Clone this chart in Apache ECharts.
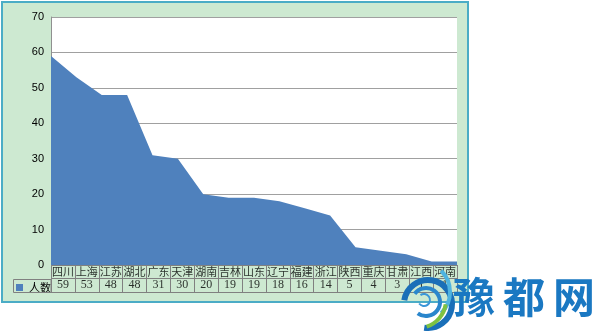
<!DOCTYPE html>
<html><head><meta charset="utf-8">
<script src="https://cdn.jsdelivr.net/npm/echarts@6/dist/echarts.min.js"></script>
<style>html,body{margin:0;padding:0;background:#fff}#c{width:600px;height:336px}</style>
</head><body><div id="c"></div>
<script>
var categories = ['四川','上海','江苏','湖北','广东','天津','湖南','吉林','山东','辽宁','福建','浙江','陕西','重庆','甘肃','江西','河南'];
var values = [59,53,48,48,31,30,20,19,19,18,16,14,5,4,3,1,1];
var seriesName = '人数';
var yTicks = [0,10,20,30,40,50,60,70];

var chart = echarts.init(document.getElementById('c'));
chart.setOption({
  animation:false,
  backgroundColor:'#fff',
  graphic:[
    {type:'rect', z:-10, shape:{x:2,y:2,width:466,height:300}, style:{fill:'#cde9d1', stroke:'#4bacc6', lineWidth:2}},
    {type:'rect', z:5, shape:{x:13.5,y:279.5,width:37.5,height:13}, style:{fill:'none', stroke:'#808080', lineWidth:1}},
    {type:'arc', z:20, shape:{cx:428,cy:304,r:24,startAngle:Math.PI*1.05,endAngle:Math.PI*2.55}, style:{stroke:'#1a6fb8', lineWidth:6, fill:'none'}},
    {type:'arc', z:20, shape:{cx:426,cy:302,r:14,startAngle:Math.PI*1.2,endAngle:Math.PI*2.7}, style:{stroke:'#2a86cc', lineWidth:4, fill:'none'}},
    {type:'arc', z:20, shape:{cx:424,cy:300,r:6,startAngle:Math.PI*1.3,endAngle:Math.PI*2.8}, style:{stroke:'#3a96d8', lineWidth:2, fill:'none'}},
    {type:'arc', z:20, shape:{cx:420,cy:292,r:30,startAngle:Math.PI*1.75,endAngle:Math.PI*2.25}, style:{stroke:'#4fb4e0', lineWidth:4, fill:'none'}},
    {type:'arc', z:20, shape:{cx:418,cy:300,r:28,startAngle:Math.PI*0.05,endAngle:Math.PI*0.4}, style:{stroke:'#7ec242', lineWidth:4, fill:'none'}},
    {type:'text', z:20, left:453, top:276, style:{text:'豫', font:'bold 42px "Noto Sans CJK SC"', fill:'#1a78c2'}},
    {type:'text', z:20, left:503, top:276, style:{text:'都', font:'bold 42px "Noto Sans CJK SC"', fill:'#1a78c2'}},
    {type:'text', z:20, left:553, top:276, style:{text:'网', font:'bold 42px "Noto Sans CJK SC"', fill:'#1a78c2'}}
  ],
  legend:{data:[seriesName], left:14, top:279, itemWidth:7, itemHeight:7, itemGap:2, padding:[3,2],
    icon:'rect', textStyle:{fontFamily:'Noto Sans CJK SC', fontSize:11, color:'#000', padding:[0,0,0,1]}},
  grid:[
    {left:51, top:17, width:406, height:248, show:true, backgroundColor:'#fff', borderWidth:0},
    {left:51, top:265, width:406, height:27, show:false, borderWidth:0}
  ],
  xAxis:[
    {gridIndex:0, type:'category', data:categories, boundaryGap:false,
      axisLine:{show:false}, axisTick:{show:false}, axisLabel:{show:false}, splitLine:{show:false}},
    {gridIndex:1, type:'category', data:categories, boundaryGap:true,
      axisLine:{show:false}, axisTick:{show:false}, axisLabel:{show:false},
      splitLine:{show:true, interval:0, lineStyle:{color:'#808080', width:1}}}
  ],
  yAxis:[
    {gridIndex:0, type:'value', min:yTicks[0], max:yTicks[yTicks.length-1], interval:10,
      axisLine:{show:true, lineStyle:{color:'#909090'}}, axisTick:{show:false},
      axisLabel:{fontFamily:'Liberation Sans', fontSize:11, color:'#000', margin:7},
      splitLine:{show:true, lineStyle:{color:'#a0a0a0', width:1}}},
    {gridIndex:1, type:'value', min:0, max:2, interval:1,
      axisLine:{show:false}, axisTick:{show:false}, axisLabel:{show:false},
      splitLine:{show:true, lineStyle:{color:'#808080', width:1}}}
  ],
  series:[
    {name:seriesName, type:'line', xAxisIndex:0, yAxisIndex:0, data:values, symbol:'none',
      lineStyle:{width:0, color:'#4f81bd'}, itemStyle:{color:'#4f81bd'},
      areaStyle:{color:'#4f81bd', opacity:1}, z:3},
    {type:'scatter', xAxisIndex:1, yAxisIndex:1, symbolSize:0, silent:true, z:6,
      data:categories.map(function(c){return [c,1.48];}),
      label:{show:true, position:'inside', formatter:function(p){return p.value[0];}, fontFamily:'Noto Sans CJK SC', fontSize:11, color:'#000'}},
    {type:'scatter', xAxisIndex:1, yAxisIndex:1, symbolSize:0, silent:true, z:6,
      data:categories.map(function(c,i){return [c,0.5,values[i]];}),
      label:{show:true, position:'inside', formatter:function(p){return p.value[2];}, fontFamily:'Liberation Serif', fontSize:12, color:'#000'}}
  ]
});
</script></body></html>
